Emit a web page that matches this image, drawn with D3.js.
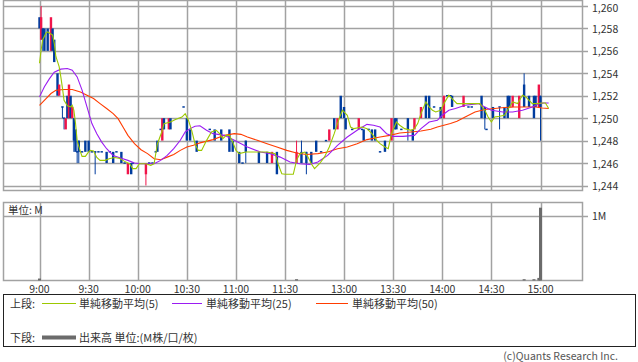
<!DOCTYPE html>
<html><head><meta charset="utf-8">
<script src="https://cdn.jsdelivr.net/npm/d3@7"></script>
<style>
body{margin:0;background:#fff}
svg{display:block}
text{font-family:"Noto Sans CJK JP","Noto Sans",sans-serif;fill:#333}
</style>
</head><body>
<svg id="c" width="638" height="362"></svg>
<script>
// ---------- data ----------
const priceTicks = [1244,1246,1248,1250,1252,1254,1256,1258,1260];
const timeTicks = ["9:00","9:30","10:00","10:30","11:00","11:30","13:00","13:30","14:00","14:30","15:00"];

const candleTimes = ["9:00","9:01","9:02","9:03","9:05","9:07","9:08","9:09","9:11","9:12","9:14","9:15","9:16","9:17","9:18","9:19","9:20","9:21","9:22","9:23","9:24","9:26","9:28","9:30","9:32","9:34","9:36","9:38","9:41","9:43","9:45","9:47","9:50","9:52","9:54","9:56","9:57","10:05","10:07","10:09","10:11","10:12","10:14","10:15","10:16","10:19","10:20","10:28","10:30","10:32","10:36","10:44","10:47","10:51","10:56","10:58","11:02","11:04","11:06","11:14","11:19","11:22","11:25",
"12:31","12:34","12:37","12:40","12:43","12:46","12:49","12:51","12:54","12:56","12:58","13:00","13:01","13:05","13:09","13:11","13:12","13:15","13:17","13:19","13:22","13:25","13:29","13:31","13:32","13:35","13:39","13:42","13:43","13:47","13:50","13:52","13:55","13:59","14:01","14:03","14:05","14:06","14:13","14:16","14:18","14:24","14:26","14:27","14:31","14:35","14:38","14:40","14:41","14:43","14:47","14:50","14:53","14:56","14:57","14:59","15:00"];
// [open, high, low, close]
const candleOHLC = [[1259,1259,1258,1258],[1257,1260,1257,1259],[1258,1258,1256,1257],[1258,1258,1256,1256],[1258,1258,1256,1256],[1256,1259,1256,1259],[1258,1258,1256,1256],[1257,1257,1255,1255],[1254,1254,1252,1252],[1252,1253,1252,1253],[1251,1251,1250,1251],[1250,1250,1249,1250],[1249,1250,1249,1250],[1252,1252,1250,1250],[1250,1253,1250,1253],[1252,1252,1250,1250],[1250,1251,1250,1251],[1250,1250,1247,1248],[1249,1249,1247,1247],[1247,1247,1246,1247],[1248,1248,1246,1247],[1247,1247,1247,1247],[1248,1248,1247,1247],[1248,1248,1247,1247],[1247,1247,1247,1247],[1247,1247,1245,1247],[1247,1247,1247,1247],[1247,1247,1247,1247],[1247,1247,1246,1246],[1247,1247,1247,1247],[1247,1247,1246,1246],[1247,1247,1247,1247],[1247,1247,1246,1246],[1246,1246,1246,1246],[1245,1246,1245,1246],[1246,1246,1245,1245],[1246,1246,1246,1246],[1245,1246,1244,1246],[1246,1246,1246,1246],[1246,1246,1246,1246],[1247,1247,1247,1247],[1248,1248,1247,1247],[1249,1249,1249,1249],[1248,1250,1248,1250],[1250,1250,1249,1249],[1249,1250,1249,1250],[1250,1250,1249,1249],[1251,1251,1251,1251],[1250,1250,1248,1248],[1249,1249,1248,1248],[1248,1248,1247,1247],[1249,1249,1249,1249],[1249,1249,1248,1248],[1249,1249,1248,1248],[1249,1249,1247,1247],[1248,1248,1247,1247],[1247,1247,1246,1246],[1246,1246,1246,1246],[1248,1248,1246,1247],[1247,1247,1246,1246],[1247,1247,1246,1246],[1246,1247,1246,1247],[1247,1247,1245,1245],
[1246,1248,1246,1247],[1247,1248,1246,1246],[1247,1247,1245,1246],[1247,1247,1246,1246],[1248,1248,1247,1247],[1247,1247,1247,1247],[1248,1248,1248,1248],[1248,1249,1248,1249],[1250,1250,1249,1249],[1249,1250,1249,1250],[1252,1252,1250,1250],[1251,1251,1250,1250],[1250,1250,1249,1249],[1249,1249,1249,1249],[1249,1250,1249,1250],[1249,1249,1249,1249],[1249,1249,1248,1248],[1249,1249,1249,1249],[1249,1249,1248,1248],[1249,1249,1248,1248],[1247,1247,1247,1247],[1248,1248,1247,1247],[1248,1250,1248,1250],[1250,1250,1249,1249],[1250,1250,1249,1249],[1249,1249,1249,1249],[1250,1250,1248,1249],[1249,1249,1248,1248],[1249,1250,1249,1250],[1250,1251,1250,1251],[1252,1252,1250,1250],[1252,1252,1250,1250],[1251,1251,1251,1251],[1251,1251,1250,1250],[1250,1252,1250,1252],[1252,1252,1252,1252],[1252,1252,1252,1252],[1252,1252,1251,1251],[1251,1252,1251,1252],[1251,1251,1251,1251],[1251,1251,1251,1251],[1252,1252,1250,1250],[1251,1251,1249,1250],[1249,1249,1249,1249],[1251,1251,1250,1250],[1251,1251,1249,1251],[1251,1251,1250,1250],[1252,1252,1250,1250],[1252,1252,1251,1251],[1251,1252,1251,1252],[1250,1252,1250,1252],[1253,1254,1251,1251],[1252,1252,1251,1251],[1252,1252,1250,1250],[1252,1252,1251,1251],[1251,1253,1251,1253],[1252,1252,1248,1251]];

const ma5Times = ["9:00","9:01","9:02","9:04","9:05","9:06","9:08","9:09","9:10","9:12","9:13","9:14","9:15","9:17","9:19","9:20","9:21","9:22","9:23","9:25","9:26","9:28","9:30","9:31","9:33","9:35","9:37","9:40","9:43","9:46","9:49","9:52","9:55","9:57","9:59","10:01","10:05","10:08","10:10","10:12","10:15","10:16","10:20","10:23","10:27","10:29","10:31","10:33","10:35","10:37","10:39","10:42","10:45","10:48","10:50","10:52","10:54","10:56","10:58","11:00","11:02","11:06","11:13","11:19","11:24","11:26","11:28","11:30","12:29","12:31","12:33","12:36","12:38","12:40","12:42","12:45","12:48","12:51","12:54","12:57","12:59","13:02","13:04","13:06","13:11","13:14","13:17","13:20","13:22","13:25","13:27","13:29","13:32","13:34","13:37","13:41","13:43","13:45","13:47","13:50","13:52","13:54","13:56","13:59","14:01","14:04","14:06","14:09","14:12","14:16","14:23","14:26","14:28","14:30","14:32","14:35","14:38","14:41","14:43","14:46","14:49","14:51","14:55","14:58","15:01","15:03","15:05"];
const ma5Values = [1254.9,1256.1,1257.0,1257.6,1257.7,1257.6,1257.4,1256.7,1255.5,1254.6,1253.7,1252.7,1251.6,1251.1,1251.0,1251.15,1250.7,1249.55,1248.0,1247.0,1246.6,1246.6,1247.0,1247.13,1247.07,1246.5,1246.24,1246.24,1246.4,1246.5,1246.4,1246.15,1245.94,1245.5,1245.5,1245.94,1245.94,1245.8,1245.94,1247.7,1248.9,1249.5,1249.66,1249.88,1250.1,1250.4,1249.8,1248.9,1247.7,1247.13,1247.13,1248.0,1248.77,1248.92,1248.62,1248.18,1248.47,1248.47,1247.87,1247.13,1246.84,1246.98,1246.98,1246.98,1246.84,1245.8,1245.05,1245.0,1245.0,1246.24,1246.84,1246.98,1246.53,1245.94,1245.5,1245.94,1246.53,1247.43,1248.62,1249.96,1250.71,1250.26,1249.21,1249.07,1249.21,1249.07,1248.62,1248.03,1247.73,1247.43,1247.28,1248.62,1249.66,1249.37,1249.07,1248.92,1249.07,1249.52,1250.41,1251.45,1251.0,1250.71,1250.55,1250.71,1251.3,1252.05,1251.75,1251.3,1251.3,1251.3,1251.3,1250.71,1250.11,1249.66,1250.11,1250.17,1250.26,1251.0,1251.45,1251.3,1252.05,1251.89,1251.3,1251.3,1251.36,1251.36,1250.86];

const ma25Times = ["9:00","9:03","9:06","9:09","9:13","9:17","9:20","9:23","9:26","9:29","9:32","9:35","9:38","9:41","9:45","9:49","9:54","9:58","10:02","10:10","10:14","10:18","10:22","10:26","10:29","10:32","10:35","10:38","10:42","10:46","10:53","10:59","11:07","11:15","11:21","11:27","12:27","12:33","12:39","12:44","12:50","12:56","13:02","13:08","13:14","13:18","13:22","13:26","13:30","13:36","13:43","13:47","13:52","13:57","14:00","14:04","14:08","14:14","14:22","14:26","14:30","14:37","14:43","14:49","14:55","14:59","15:02","15:05"];
const ma25Values = [1251.9,1252.8,1253.5,1254.1,1254.37,1254.43,1254.28,1253.68,1252.5,1251.0,1249.52,1248.62,1247.87,1247.28,1246.68,1246.48,1246.24,1246.0,1245.94,1245.94,1246.24,1246.68,1247.28,1248.03,1248.77,1249.07,1249.28,1249.32,1248.92,1248.62,1248.47,1248.03,1247.43,1246.98,1246.84,1246.53,1246.09,1245.94,1245.88,1246.09,1246.68,1247.58,1248.32,1248.92,1249.45,1249.37,1249.21,1248.62,1248.38,1248.38,1248.47,1249.07,1249.66,1249.81,1250.26,1250.71,1250.86,1251.15,1251.3,1251.0,1250.71,1250.55,1250.55,1250.71,1251.0,1251.3,1251.36,1251.36];

const ma50Times = ["9:00","9:04","9:07","9:10","9:15","9:20","9:25","9:29","9:33","9:37","9:41","9:45","9:48","9:51","9:54","9:58","10:02","10:06","10:10","10:14","10:18","10:22","10:26","10:30","10:34","10:38","10:46","10:53","10:59","11:03","11:07","11:13","11:19","11:25","12:25","12:31","12:37","12:44","12:50","12:56","13:02","13:08","13:14","13:22","13:28","13:34","13:41","13:47","13:53","13:57","14:01","14:05","14:09","14:14","14:20","14:26","14:32","14:38","14:44","14:57","15:01","15:05"];
const ma50Values = [1251.15,1251.75,1252.2,1252.49,1252.56,1252.56,1252.34,1252.05,1251.75,1251.3,1250.86,1250.41,1249.96,1249.21,1248.47,1247.73,1247.19,1246.84,1246.39,1246.3,1246.53,1246.77,1247.13,1247.43,1247.58,1247.8,1248.09,1248.47,1248.62,1248.56,1248.32,1248.03,1247.73,1247.43,1247.13,1246.89,1246.77,1246.84,1246.98,1247.28,1247.43,1247.73,1248.09,1248.32,1248.47,1248.68,1248.77,1248.86,1249.01,1249.21,1249.37,1249.52,1249.72,1250.11,1250.55,1250.77,1250.86,1250.95,1251.0,1251.0,1250.91,1250.86];

const volTimes = ["9:00","12:31","14:50","14:56","14:59","15:00"];
const volValues = [0.03,0.02,0.02,0.02,0.04,1.12];

// ---------- layout ----------
const svg = d3.select("#c");
const L = 3.5, R = 582.5;
const P = {top:0.5, bottom:190.5};
const V = {top:202.5, bottom:280.5};
const RED = "#f0144a", BLUE = "#003c9e", GRID = "#a2a2a2";

// session slot index: morning 9:00-11:30 -> 0..150, afternoon 12:30 -> 156
function slot(t){
  const [h,m] = t.split(":").map(Number);
  const mins = h*60+m;
  return mins <= 690 ? mins-540 : 156 + (mins-750);
}
const x = d3.scaleLinear().domain([0,306]).range([39.5,540.5]);
const y = d3.scaleLinear().domain([1244,1260]).range([185.5,6]);
const yv = d3.scaleLinear().domain([0,1]).range([V.bottom,215.5]);

// price panel grid
const grid = svg.append("g");
priceTicks.forEach(p=>{
  grid.append("line").attr("x1",L).attr("x2",588).attr("y1",Math.round(y(p))+0.5).attr("y2",Math.round(y(p))+0.5)
    .attr("stroke",GRID).attr("stroke-width",1.5);
});
timeTicks.forEach(t=>{
  const xx = Math.round(x(slot(t)))+0.5;
  grid.append("line").attr("x1",xx).attr("x2",xx).attr("y1",P.top).attr("y2",P.bottom).attr("stroke",GRID).attr("stroke-width",1.5);
  grid.append("line").attr("x1",xx).attr("x2",xx).attr("y1",V.top).attr("y2",V.bottom).attr("stroke",GRID).attr("stroke-width",1.5);
});
// frames
svg.append("rect").attr("x",L).attr("y",P.top).attr("width",R-L).attr("height",P.bottom-P.top)
  .attr("fill","none").attr("stroke",GRID).attr("stroke-width",1.5);
svg.append("rect").attr("x",L).attr("y",V.top).attr("width",R-L).attr("height",V.bottom-V.top)
  .attr("fill","none").attr("stroke",GRID).attr("stroke-width",1.5);
svg.append("line").attr("x1",L).attr("x2",588).attr("y1",Math.round(yv(1))+0.5).attr("y2",Math.round(yv(1))+0.5)
  .attr("stroke",GRID).attr("stroke-width",1.5);

// price axis labels
priceTicks.forEach(p=>{
  svg.append("text").attr("x",592).attr("y",Math.max(y(p),7)).attr("dominant-baseline","central")
    .attr("font-size",10.5).text(d3.format(",")(p));
});
svg.append("text").attr("x",592).attr("y",yv(1)).attr("dominant-baseline","central").attr("font-size",10.5).text("1M");
svg.append("text").attr("x",8).attr("y",209).attr("dominant-baseline","central").attr("font-size",10.5).text("単位: M");

// time labels
timeTicks.forEach(t=>{
  svg.append("text").attr("x",x(slot(t))).attr("y",288).attr("text-anchor","middle").attr("dominant-baseline","central")
    .attr("font-size",10.5).text(t);
});

// candles
const cg = svg.append("g");
const bw = 2.4;
candleTimes.forEach((t,i)=>{
  const [o,h,l,c] = candleOHLC[i];
  const cx = x(slot(t));
  const col = c>o ? RED : BLUE;
  if(h>Math.max(o,c) || l<Math.min(o,c)){
    cg.append("line").attr("x1",cx).attr("x2",cx).attr("y1",y(h)).attr("y2",y(l)).attr("stroke",col).attr("stroke-width",1);
  }
  if(o===c){
    cg.append("rect").attr("x",cx-bw/2).attr("y",y(o)-0.75).attr("width",bw).attr("height",1.5).attr("fill",col);
  } else {
    cg.append("rect").attr("x",cx-bw/2).attr("y",y(Math.max(o,c))).attr("width",bw)
      .attr("height",Math.abs(y(o)-y(c))).attr("fill",col);
  }
});

// moving averages
function drawMA(times, vals, color){
  const line = d3.line().x(d=>x(slot(d[0]))).y(d=>y(d[1]));
  svg.append("path").datum(times.map((t,i)=>[t,vals[i]])).attr("d",line)
    .attr("fill","none").attr("stroke",color).attr("stroke-width",1.1);
}
drawMA(ma50Times, ma50Values, "#ff3c00");
drawMA(ma25Times, ma25Values, "#9b1cf2");
drawMA(ma5Times, ma5Values, "#9cc800");

// volume
volTimes.forEach((t,i)=>{
  const cx = x(slot(t));
  svg.append("rect").attr("x",cx-1.5).attr("y",yv(volValues[i])).attr("width",3)
    .attr("height",V.bottom-yv(volValues[i])).attr("fill","#6b6b6b");
});

// legend
svg.append("rect").attr("x",3.5).attr("y",294.5).attr("width",632).attr("height",52)
  .attr("fill","none").attr("stroke","#222").attr("stroke-width",1);
const lg = svg.append("g").attr("font-size",11);
lg.append("text").attr("x",10).attr("y",303).attr("dominant-baseline","central").text("上段:");
const items = [["#9cc800",42,76,79,"単純移動平均(5)"],["#9b1cf2",172,202,206,"単純移動平均(25)"],["#ff3c00",316,348,352,"単純移動平均(50)"]];
items.forEach(it=>{
  lg.append("line").attr("x1",it[1]).attr("x2",it[2]).attr("y1",303.5).attr("y2",303.5).attr("stroke",it[0]).attr("stroke-width",1);
  lg.append("text").attr("x",it[3]).attr("y",303).attr("dominant-baseline","central").text(it[4]);
});
lg.append("text").attr("x",10).attr("y",337).attr("dominant-baseline","central").text("下段:");
lg.append("line").attr("x1",42).attr("x2",76).attr("y1",337.5).attr("y2",337.5).attr("stroke","#6b6b6b").attr("stroke-width",4);
lg.append("text").attr("x",79).attr("y",337).attr("dominant-baseline","central").text("出来高 単位:(M株/口/枚)");

svg.append("text").attr("x",618).attr("y",355).attr("text-anchor","end").attr("dominant-baseline","central")
  .attr("font-size",10.5).style("fill","#555").text("(c)Quants Research Inc.");
</script>
</body></html>
